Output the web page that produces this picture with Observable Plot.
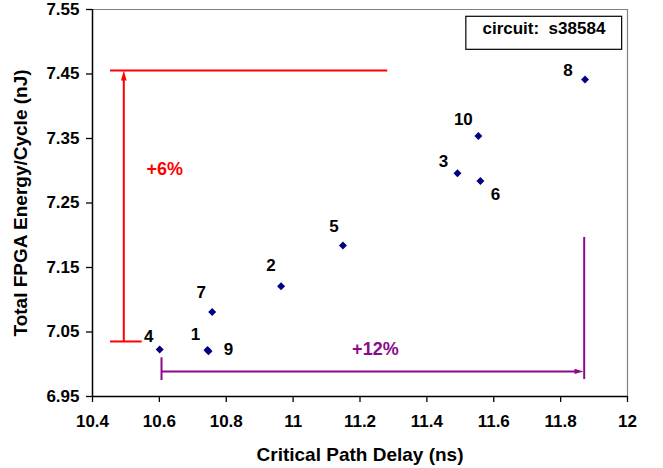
<!DOCTYPE html>
<html>
<head>
<meta charset="utf-8">
<script src="https://cdn.jsdelivr.net/npm/d3@7"></script>
<script src="https://cdn.jsdelivr.net/npm/@observablehq/plot@0.6"></script>
<style>
  body { margin: 0; background: #fff; }
  svg { display: block; }
</style>
</head>
<body>
<script>
// ---- data ----
const circuitIds = ["1", "2", "3", "4", "5", "6", "7", "8", "9", "10"];
const delayNs   = [10.744, 10.964, 11.4915, 10.601, 11.149, 11.560, 10.758, 11.873, 10.747, 11.554];
const energyNJ  = [7.022, 7.121, 7.296, 7.023, 7.184, 7.284, 7.081, 7.4415, 7.020, 7.354];

const xTicks = [10.4, 10.6, 10.8, 11, 11.2, 11.4, 11.6, 11.8, 12];
const yTicks = [6.95, 7.05, 7.15, 7.25, 7.35, 7.45, 7.55];

// annotation: energy span (+6%)
const energyBracketX = [10.4936];
const energyBracketY = [7.0353, 7.4554];
const energyCapTopX  = [10.454, 11.283];
const energyCapBotX  = [10.454, 10.5486];
// annotation: delay span (+12%)
const delayArrowY    = [6.9888];
const delaySpanX     = [10.6064, 11.8684];
const delayTickLeftY = [6.9748, 7.010];
const delayTickRightX = [11.8705];
const delayTickRightY = [6.9764, 7.1965];

const annotationTexts = ["+6%", "+12%"];
const annotationX = [10.616, 11.246];
const annotationY = [7.302, 7.024];

const legendText = "circuit:\u00a0\u00a0s38584";
const legendBoxX = [11.518, 11.984];
const legendBoxY = [7.4875, 7.5387];
const legendTextXY = [11.750, 7.5198];

// label placement (pixel offsets from each point), kept apart from data
const labelOffsets = {
  "1": [-12, -16], "2": [-10, -21], "3": [-14, -12], "4": [-11, -13], "5": [-9, -19],
  "6": [15, 13], "7": [-11, -19], "8": [-17, -9], "9": [20, -2], "10": [-15, -16]
};

const points = circuitIds.map((id, i) => ({id, x: delayNs[i], y: energyNJ[i]}));

const FONT = "'Liberation Sans', Arial, sans-serif";
const RED = "#ff0000";
const PURPLE = "#8a0a8a";

const arrowUp = {draw(ctx) { ctx.moveTo(0, 0); ctx.lineTo(2.8, 10); ctx.lineTo(-2.8, 10); ctx.closePath(); }};
const arrowRight = {draw(ctx) { ctx.moveTo(0, 0); ctx.lineTo(-9, 2.6); ctx.lineTo(-9, -2.6); ctx.closePath(); }};

const labelMarks = points.map(p => Plot.text([p], {
  x: "x", y: "y", text: "id",
  dx: labelOffsets[p.id][0], dy: labelOffsets[p.id][1],
  fontSize: 17, fontWeight: "bold", fill: "#000", lineAnchor: "middle", textAnchor: "middle"
}));

const plot = Plot.plot({
  width: 663,
  height: 468,
  marginLeft: 92,
  marginRight: 36,
  marginTop: 9,
  marginBottom: 72,
  style: {fontFamily: FONT, fontSize: "17px", fontWeight: "bold", color: "#000", background: "#fff", overflow: "visible"},
  x: {domain: [10.4, 12]},
  y: {domain: [6.95, 7.55]},
  marks: [
    // frame
    Plot.ruleY([yTicks[yTicks.length - 1]], {stroke: "#808080", strokeWidth: 1.2}),
    Plot.ruleX([xTicks[xTicks.length - 1]], {stroke: "#808080", strokeWidth: 1.2}),
    Plot.axisX({ticks: xTicks, tickFormat: d3.format("~g"), tickSize: 6, tickPadding: 12, label: null, strokeWidth: 1.3, fontSize: 17, fontWeight: "bold"}),
    Plot.axisY({ticks: yTicks, tickFormat: d3.format(".2f"), tickSize: 6, tickPadding: 7, label: null, strokeWidth: 1.3, fontSize: 17, fontWeight: "bold"}),
    Plot.ruleX([xTicks[0]], {stroke: "#000", strokeWidth: 1.5}),
    Plot.ruleY([yTicks[0]], {stroke: "#000", strokeWidth: 1.5}),

    // +6% bracket
    Plot.ruleY([energyBracketY[1]], {x1: energyCapTopX[0], x2: energyCapTopX[1], stroke: RED, strokeWidth: 2}),
    Plot.ruleY([energyBracketY[0]], {x1: energyCapBotX[0], x2: energyCapBotX[1], stroke: RED, strokeWidth: 2}),
    Plot.ruleX(energyBracketX, {y1: energyBracketY[0], y2: energyBracketY[1] - 0.012, stroke: RED, strokeWidth: 2}),
    Plot.dot([{x: energyBracketX[0], y: energyBracketY[1]}], {x: "x", y: "y", symbol: arrowUp, fill: RED, stroke: "none"}),

    // +12% bracket
    Plot.ruleX([delaySpanX[0]], {y1: delayTickLeftY[0], y2: delayTickLeftY[1], stroke: PURPLE, strokeWidth: 2}),
    Plot.ruleX(delayTickRightX, {y1: delayTickRightY[0], y2: delayTickRightY[1], stroke: PURPLE, strokeWidth: 2}),
    Plot.ruleY(delayArrowY, {x1: delaySpanX[0], x2: delaySpanX[1] - 0.02, stroke: PURPLE, strokeWidth: 2}),
    Plot.dot([{x: delaySpanX[1], y: delayArrowY[0]}], {x: "x", y: "y", symbol: arrowRight, fill: PURPLE, stroke: "none"}),

    Plot.text([0], {x: annotationX[0], y: annotationY[0], text: [annotationTexts[0]], fill: RED, fontSize: 18, fontWeight: "bold", lineAnchor: "middle"}),
    Plot.text([0], {x: annotationX[1], y: annotationY[1], text: [annotationTexts[1]], fill: PURPLE, fontSize: 18, fontWeight: "bold", lineAnchor: "middle"}),

    // points
    Plot.dot(points, {x: "x", y: "y", symbol: "diamond2", r: 3.6, fill: "#000080", stroke: "none"}),
    ...labelMarks,

    // legend box
    Plot.rect([0], {x1: legendBoxX[0], x2: legendBoxX[1], y1: legendBoxY[0], y2: legendBoxY[1], fill: "#fff", stroke: "#000", strokeWidth: 1.2}),
    Plot.text([0], {x: legendTextXY[0], y: legendTextXY[1], text: [legendText], fontSize: 17, fontWeight: "bold", lineAnchor: "middle"}),

    // axis titles
    Plot.text(["Critical Path Delay (ns)"], {frameAnchor: "bottom", dy: 58, fontSize: 19, fontWeight: "bold", lineAnchor: "middle", textAnchor: "middle"}),
    Plot.text(["Total FPGA Energy/Cycle (nJ)"], {frameAnchor: "left", dx: -72, rotate: -90, fontSize: 19, fontWeight: "bold", lineAnchor: "middle", textAnchor: "middle"})
  ]
});

document.body.append(plot);
</script>
</body>
</html>
